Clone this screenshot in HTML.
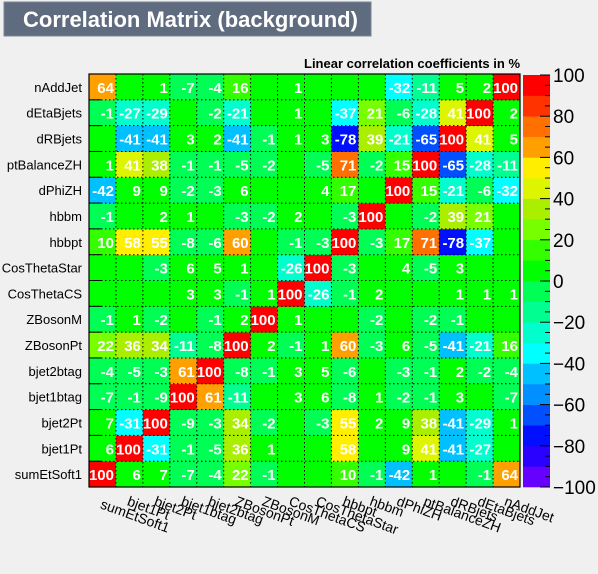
<!DOCTYPE html>
<html><head><meta charset="utf-8">
<style>
html,body{margin:0;padding:0;background:#f0f0f0;}
svg{display:block;font-family:"Liberation Sans",Arial,sans-serif;}
</style></head>
<body>
<svg id="chart" width="598" height="574" viewBox="0 0 598 574" xmlns="http://www.w3.org/2000/svg">
  <rect x="0" y="0" width="598" height="574" fill="#f0f0f0"/>
  <rect x="4" y="2" width="367" height="34" fill="#5f6b7f" stroke="#7a8699" stroke-width="1"/>
  <text x="23" y="27" font-size="22" font-weight="bold" fill="#ffffff">Correlation Matrix (background)</text>
  <text x="520" y="68" font-size="13" font-weight="bold" text-anchor="end" fill="#000">Linear correlation coefficients in %</text>
  <g id="cells"></g>
  <g id="grid"></g>
  <g id="labels"></g>
  <g id="ylabels"></g>
  <g id="xlabels"></g>
  <g id="cbar"></g>
  <rect x="89" y="74" width="431" height="413" fill="none" stroke="#000" stroke-width="1.2"/>
</svg>
<script>
const variables = ["sumEtSoft1","bjet1Pt","bjet2Pt","bjet1btag","bjet2btag","ZBosonPt","ZBosonM","CosThetaCS","CosThetaStar","hbbpt","hbbm","dPhiZH","ptBalanceZH","dRBjets","dEtaBjets","nAddJet"];
const row_sumEtSoft1 = [100,6,7,-7,-4,22,-1,0,0,10,-1,-42,1,0,-1,64];
const row_bjet1Pt = [6,100,-31,-1,-5,36,1,0,0,58,0,9,41,-41,-27,0];
const row_bjet2Pt = [7,-31,100,-9,-3,34,-2,0,-3,55,2,9,38,-41,-29,1];
const row_bjet1btag = [-7,-1,-9,100,61,-11,0,3,6,-8,1,-2,-1,3,0,-7];
const row_bjet2btag = [-4,-5,-3,61,100,-8,-1,3,5,-6,0,-3,-1,2,-2,-4];
const row_ZBosonPt = [22,36,34,-11,-8,100,2,-1,1,60,-3,6,-5,-41,-21,16];
const row_ZBosonM = [-1,1,-2,0,-1,2,100,1,0,0,-2,0,-2,-1,0,0];
const row_CosThetaCS = [0,0,0,3,3,-1,1,100,-26,-1,2,0,0,1,1,1];
const row_CosThetaStar = [0,0,-3,6,5,1,0,-26,100,-3,0,4,-5,3,0,0];
const row_hbbpt = [10,58,55,-8,-6,60,0,-1,-3,100,-3,17,71,-78,-37,0];
const row_hbbm = [-1,0,2,1,0,-3,-2,2,0,-3,100,0,-2,39,21,0];
const row_dPhiZH = [-42,9,9,-2,-3,6,0,0,4,17,0,100,15,-21,-6,-32];
const row_ptBalanceZH = [1,41,38,-1,-1,-5,-2,0,-5,71,-2,15,100,-65,-28,-11];
const row_dRBjets = [0,-41,-41,3,2,-41,-1,1,3,-78,39,-21,-65,100,41,5];
const row_dEtaBjets = [-1,-27,-29,0,-2,-21,0,1,0,-37,21,-6,-28,41,100,2];
const row_nAddJet = [64,0,1,-7,-4,16,0,1,0,0,0,-32,-11,5,2,100];
const rows = [row_sumEtSoft1,row_bjet1Pt,row_bjet2Pt,row_bjet1btag,row_bjet2btag,row_ZBosonPt,row_ZBosonM,row_CosThetaCS,row_CosThetaStar,row_hbbpt,row_hbbm,row_dPhiZH,row_ptBalanceZH,row_dRBjets,row_dEtaBjets,row_nAddJet];
const colorTicks = [-100,-80,-60,-40,-20,0,20,40,60,80,100];
const palette = ["#6600ff","#2a00ff","#0010ff","#0050ff","#0090ff","#00c0ff","#00ffff","#00ffcc","#00ff90","#00ff55","#00ff00","#33ff00","#77ff00","#aaee00","#ddf500","#ffee00","#ffa000","#ff7000","#ff3300","#ff0000"];

const NS="http://www.w3.org/2000/svg";
const X0=89,X1=520,Y0=74,Y1=487,N=variables.length;
const cw=(X1-X0)/N, ch=(Y1-Y0)/N;
function xPos(i){return X0+i*cw;}
function yPos(j){return Y1-(j+1)*ch;}
function colorOf(v){
  let idx=Math.floor((v+100)/10);
  if(v<0&&v>-10) idx=9; else if(v<0) idx=Math.floor((v+100)/10-1e-9);
  if(idx<0)idx=0; if(idx>19)idx=19; return palette[idx];
}
function mk(tag,attrs,parent){const e=document.createElementNS(NS,tag);for(const k in attrs)e.setAttribute(k,attrs[k]);parent.appendChild(e);return e;}
const gc=document.getElementById('cells'),gl=document.getElementById('labels'),gg=document.getElementById('grid');
const gy=document.getElementById('ylabels'),gx=document.getElementById('xlabels'),gb=document.getElementById('cbar');
for(let j=0;j<N;j++){
  for(let i=0;i<N;i++){
    const v=rows[j][i];
    const r=mk('rect',{x:xPos(i),y:yPos(j),width:cw+0.4,height:ch+0.4,fill:colorOf(v)},gc);
    
    
    if(v!==0){
      const t=mk('text',{x:xPos(i)+cw-2,y:yPos(j)+ch/2+6,'font-size':'15','font-weight':'bold',fill:'#fff','text-anchor':'end'},gl);
      if(Math.abs(v)===100) t.setAttribute('textLength', String(cw-2));
      t.textContent=v;
      
      
    }
  }
}
for(let k=1;k<N;k++){
  const l1=mk('line',{x1:xPos(k),x2:xPos(k),y1:Y0,y2:Y1,stroke:'#000','stroke-width':'1','stroke-dasharray':'1.5,2.5'},gg);
  
  
  const l2=mk('line',{x1:X0,x2:X1,y1:Y0+k*ch,y2:Y0+k*ch,stroke:'#000','stroke-width':'1','stroke-dasharray':'1.5,2.5'},gg);
  
  
  const t1=mk('line',{x1:X0,x2:X0+12,y1:Y0+k*ch,y2:Y0+k*ch,stroke:'#000','stroke-width':'1'},gg);
  
  
}
variables.forEach((name,j)=>{
  const t=mk('text',{x:82,y:yPos(j)+ch/2+5,'font-size':'13','text-anchor':'end',fill:'#000'},gy);
  t.textContent=name;
  
  
});
variables.forEach((name,i)=>{
  const x=xPos(i)+cw/2-3, y=(i===0?508:505);
  const t=mk('text',{x:x,y:y,'font-size':'14',fill:'#000',transform:`rotate(20 ${x} ${y})`},gx);
  t.textContent=name;
  
  
});
const CX0=523,CX1=550,CY0=75,CY1=487;
function cy(v){return CY1-(v+100)/200*(CY1-CY0);}
palette.forEach((c,k)=>{
  const v0=-100+k*10;
  const r=mk('rect',{x:CX0,y:cy(v0+10),width:CX1-CX0,height:cy(v0)-cy(v0+10)+0.3,fill:c},gb);
  
  
});
for(let v=-100;v<=100;v+=5){
  const major=colorTicks.includes(v);
  const l=mk('line',{x1:CX1-(major?10:5),x2:CX1,y1:cy(v),y2:cy(v),stroke:'#000','stroke-width':'1'},gb);
  
  
}
colorTicks.forEach(v=>{
  const t=mk('text',{x:553,y:cy(v)+7,'font-size':'19',fill:'#000'},gb);
  t.textContent=(v<0?'\u2212'+(-v):String(v));
  
  
});
</script>
</body></html>
